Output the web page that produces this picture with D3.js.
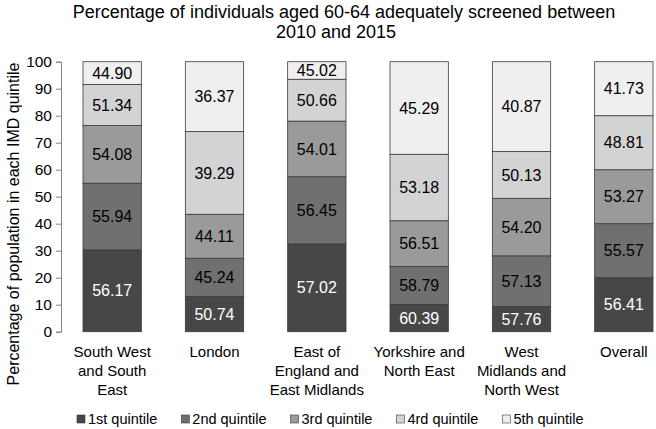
<!DOCTYPE html>
<html>
<head>
<meta charset="utf-8">
<script src="https://cdn.jsdelivr.net/npm/d3@7"></script>
<style>
  body { margin: 0; background: #fff; }
  text { font-family: "Liberation Sans", Arial, sans-serif; }
</style>
</head>
<body>
<svg width="656" height="429"></svg>
<script>
// regions (x-axis categories), each label split into lines
const regions = ["South West and South East", "London", "East of England and East Midlands",
                 "Yorkshire and North East", "West Midlands and North West", "Overall"];
const regionLines = [["South West", "and South", "East"], ["London"], ["East of", "England and", "East Midlands"],
                     ["Yorkshire and", "North East"], ["West", "Midlands and", "North West"], ["Overall"]];
const quintiles = ["1st quintile", "2nd quintile", "3rd quintile", "4rd quintile", "5th quintile"];

// share of population in each IMD quintile (segment heights)
const q1Share = [30.3, 13.0, 32.5, 10.1, 9.3, 20];
const q2Share = [24.7, 14.2, 24.9, 14.0, 18.8, 20];
const q3Share = [21.4, 16.3, 20.6, 17.0, 21.3, 20];
const q4Share = [15.2, 30.6, 15.5, 24.6, 17.3, 20];
const q5Share = [8.4, 25.9, 6.5, 34.3, 33.3, 20];

// percentage adequately screened (printed in segments)
const q1Screened = ["56.17", "50.74", "57.02", "60.39", "57.76", "56.41"];
const q2Screened = ["55.94", "45.24", "56.45", "58.79", "57.13", "55.57"];
const q3Screened = ["54.08", "44.11", "54.01", "56.51", "54.20", "53.27"];
const q4Screened = ["51.34", "39.29", "50.66", "53.18", "50.13", "48.81"];
const q5Screened = ["44.90", "36.37", "45.02", "45.29", "40.87", "41.73"];

const yTicks = [0, 10, 20, 30, 40, 50, 60, 70, 80, 90, 100];

const shares = [q1Share, q2Share, q3Share, q4Share, q5Share];
const screened = [q1Screened, q2Screened, q3Screened, q4Screened, q5Screened];
const colors = ["#474747", "#707070", "#9a9a9a", "#d3d3d3", "#efefef"];
const textColors = ["#ffffff", "#000000", "#000000", "#000000", "#000000"];

const svg = d3.select("svg");

// plot area (runs past the right edge, like the original)
const x = d3.scaleBand()
    .domain(regions)
    .range([61, 675])
    .paddingInner(0.43)
    .paddingOuter(0.215);

const y = d3.scaleLinear()
    .domain([0, 100])
    .range([331.7, 61.7]);

// build stacked table
const table = regions.map((r, i) => {
    const row = { region: r };
    quintiles.forEach((q, j) => { row[q] = shares[j][i]; });
    return row;
});
const stacked = d3.stack().keys(quintiles)(table);

// title
svg.append("text")
    .attr("x", 344)
    .attr("y", 18)
    .attr("text-anchor", "middle")
    .style("font-size", "18px")
    .attr("fill", "#000")
    .text("Percentage of individuals aged 60-64 adequately screened between");
svg.append("text")
    .attr("x", 336)
    .attr("y", 38)
    .attr("text-anchor", "middle")
    .style("font-size", "18px")
    .attr("fill", "#000")
    .text("2010 and 2015");

// y axis
const yAxis = d3.axisLeft(y).tickValues(yTicks).tickSize(5).tickPadding(4);
const gy = svg.append("g")
    .attr("transform", "translate(61,0)")
    .call(yAxis);
gy.select(".domain").attr("stroke", "#868686");
gy.selectAll(".tick line").attr("stroke", "#868686");
gy.selectAll(".tick text")
    .style("font-size", "15.5px")
    .style("font-family", "'Liberation Sans', Arial, sans-serif")
    .attr("fill", "#000");

// y axis title
svg.append("text")
    .attr("transform", "translate(13,224) rotate(-90)")
    .attr("text-anchor", "middle")
    .attr("dy", "0.35em")
    .style("font-size", "16px")
    .attr("fill", "#000")
    .text("Percentage of population in each IMD quintile");

// bars
const layers = svg.selectAll("g.layer")
    .data(stacked)
    .enter()
    .append("g")
    .attr("class", "layer");

layers.selectAll("rect")
    .data(d => d)
    .enter()
    .append("rect")
    .attr("x", d => x(d.data.region))
    .attr("y", d => y(d[1]))
    .attr("width", x.bandwidth())
    .attr("height", d => y(d[0]) - y(d[1]))
    .attr("fill", function() { return colors[d3.select(this.parentNode).datum().index]; })
    .attr("stroke", "#3a3a3a")
    .attr("stroke-width", 0.8);

// segment labels
layers.each(function(layer) {
    const k = layer.index;
    d3.select(this).selectAll("text")
        .data(layer)
        .enter()
        .append("text")
        .attr("x", d => x(d.data.region) + x.bandwidth() / 2)
        .attr("y", d => y((d[0] + d[1]) / 2))
        .attr("dy", "0.35em")
        .attr("text-anchor", "middle")
        .style("font-size", "16px")
        .attr("fill", textColors[k])
        .text((d, i) => screened[k][i]);
});

// x labels
regions.forEach((r, i) => {
    const t = svg.append("text")
        .attr("x", x(r) + x.bandwidth() / 2)
        .attr("y", 357)
        .attr("text-anchor", "middle")
        .style("font-size", "15px")
        .attr("fill", "#000");
    regionLines[i].forEach((line, j) => {
        t.append("tspan")
            .attr("x", x(r) + x.bandwidth() / 2)
            .attr("dy", j === 0 ? 0 : 19)
            .text(line);
    });
});

// legend
const legend = svg.append("g").attr("transform", "translate(77,424)");
let lx = 0;
quintiles.forEach((q, i) => {
    const item = legend.append("g").attr("transform", "translate(" + lx + ",0)");
    item.append("rect")
        .attr("x", 0)
        .attr("y", -9)
        .attr("width", 8)
        .attr("height", 8)
        .attr("fill", colors[i])
        .attr("stroke", "#3a3a3a")
        .attr("stroke-width", 0.6);
    const t = item.append("text")
        .attr("x", 11)
        .attr("y", 0)
        .style("font-size", "14.5px")
        .attr("fill", "#000")
        .text(q);
    lx += 11 + t.node().getComputedTextLength() + 24;
});
</script>
</body>
</html>
